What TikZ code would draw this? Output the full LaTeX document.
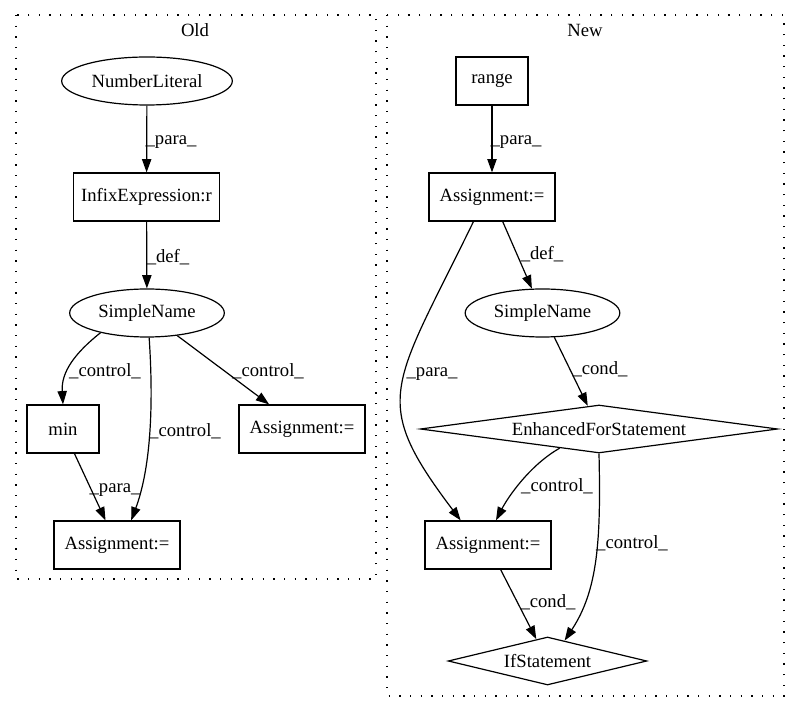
\documentclass[tikz,border=0pt]{standalone}
\usepackage{fontspec}
\setmainfont{Liberation Serif}
\usetikzlibrary{shapes.geometric,arrows.meta}
\begin{document}
\begin{tikzpicture}[x=0.75pt,y=-0.75pt,
  every node/.style={font=\fontsize{14}{16}\selectfont},
  box/.style={draw,line width=0.9pt,rectangle,inner sep=0pt,minimum height=36pt},
  ell/.style={draw,line width=0.9pt,ellipse,inner sep=0pt,minimum height=36pt},
  dia/.style={draw,line width=0.9pt,diamond,inner sep=0pt,minimum height=36pt},
  edge/.style={line width=0.9pt,-{Triangle[length=10pt,width=7pt]}},
  lbl/.style={inner sep=0pt,anchor=base},
  cluster/.style={line width=1pt,dash pattern=on 1pt off 7pt}]
\useasboundingbox (0,0) rectangle (800,712);
% clusters
\draw[cluster] (16,15) rectangle (376,579);
\draw[cluster] (387,15) rectangle (784,696);
\node[lbl] (tOld) at (195,37) {Old};
\node[lbl] (tNew) at (585,37) {New};
% Old nodes
\node[ell,minimum width=128pt] (nl) at (147,81) {NumberLiteral};
\node[box,minimum width=110pt] (ie) at (146.5,197) {InfixExpression:r};
\node[ell,minimum width=116pt] (sno) at (147,313) {SimpleName};
\node[box,minimum width=54pt] (mino) at (63,429) {min};
\node[box,minimum width=94.5pt] (aor) at (302,429) {Assignment:=};
\node[box,minimum width=94.5pt] (aob) at (117,545) {Assignment:=};
% New nodes
\node[box,minimum width=54pt] (rng) at (492,81) {range};
\node[box,minimum width=94.5pt] (an1) at (492,197) {Assignment:=};
\node[ell,minimum width=116pt] (snn) at (542.5,313) {SimpleName};
\node[dia,minimum width=268pt,shape aspect=7.4] (efs) at (599,429) {EnhancedForStatement};
\node[box,minimum width=94.5pt] (an2) at (488,545) {Assignment:=};
\node[dia,minimum width=149pt,shape aspect=4.1] (ifs) at (547.5,661) {IfStatement};
% Old edges
\draw[edge] (nl) -- (ie);
\draw[edge] (ie) -- (sno);
\draw[edge] (sno.203) .. controls (75,353) and (61,372) .. (mino.north);
\draw[edge] (sno.-85) .. controls (154,410) and (150,470) .. (aob.60);
\draw[edge] (sno) -- (aor);
\draw[edge] (mino) -- (aob);
% New edges
\draw[edge] (rng) -- (an1);
\draw[edge] (an1) -- (snn);
\draw[edge] (an1.233) .. controls (392,389) and (369,399) .. (an2.138);
\draw[edge] (snn) -- (efs);
\draw[edge] (efs.206) .. controls (530,465) and (508,497) .. (an2.72);
\draw[edge] (efs.south) .. controls (601,540) and (598,590) .. (ifs.50);
\draw[edge] (an2) -- (ifs);
% labels
\node[lbl] (l1) at (171,145) {\_para\_};
\node[lbl] (l2) at (168,263) {\_def\_};
\node[lbl] (l3) at (105,377) {\_control\_};
\node[lbl] (l4) at (185,437) {\_control\_};
\node[lbl] (l5) at (268,377) {\_control\_};
\node[lbl] (l6) at (115,493) {\_para\_};
\node[lbl] (l7) at (516,145) {\_para\_};
\node[lbl] (l8) at (542,260) {\_def\_};
\node[lbl] (l9) at (432,377) {\_para\_};
\node[lbl] (l10) at (600,375) {\_cond\_};
\node[lbl] (l11) at (557,492) {\_control\_};
\node[lbl] (l12) at (632,549) {\_control\_};
\node[lbl] (l13) at (548,608) {\_cond\_};
\end{tikzpicture}
\end{document}
